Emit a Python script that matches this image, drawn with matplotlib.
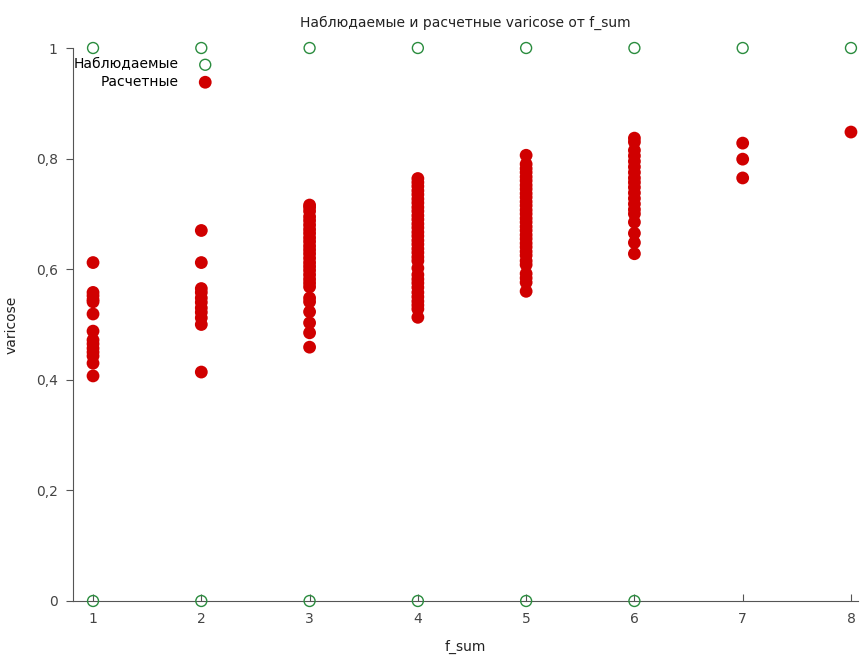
import matplotlib.pyplot as plt

# observed values (0/1) for each f_sum
obs_x = [1, 2, 3, 4, 5, 6, 7, 8, 1, 2, 3, 4, 5, 6]
obs_y = [1, 1, 1, 1, 1, 1, 1, 1, 0, 0, 0, 0, 0, 0]

# predicted values grouped by f_sum
pred_1 = [0.612, 0.558, 0.552, 0.545, 0.541, 0.519, 0.488, 0.472, 0.465,
          0.457, 0.450, 0.443, 0.430, 0.407]
pred_2 = [0.670, 0.612, 0.565, 0.558, 0.548, 0.540, 0.530, 0.522, 0.512,
          0.500, 0.414]
pred_3 = [0.716, 0.712, 0.705, 0.695, 0.688, 0.680, 0.672, 0.665, 0.657,
          0.650, 0.642, 0.635, 0.628, 0.620, 0.612, 0.605, 0.598, 0.590,
          0.582, 0.575, 0.568, 0.548, 0.541, 0.523, 0.503, 0.485, 0.459]
pred_4 = [0.764, 0.757, 0.750, 0.742, 0.735, 0.727, 0.720, 0.712, 0.705,
          0.697, 0.690, 0.682, 0.675, 0.667, 0.660, 0.652, 0.645, 0.637,
          0.630, 0.622, 0.615, 0.602, 0.590, 0.582, 0.575, 0.567, 0.558,
          0.550, 0.542, 0.535, 0.528, 0.513]
pred_5 = [0.806, 0.790, 0.782, 0.775, 0.767, 0.760, 0.752, 0.745, 0.737,
          0.730, 0.722, 0.715, 0.707, 0.700, 0.692, 0.685, 0.677, 0.670,
          0.662, 0.655, 0.647, 0.640, 0.632, 0.625, 0.615, 0.608, 0.592,
          0.584, 0.576, 0.560]
pred_6 = [0.837, 0.830, 0.815, 0.805, 0.795, 0.785, 0.775, 0.765, 0.757,
          0.748, 0.738, 0.728, 0.718, 0.708, 0.700, 0.685, 0.665, 0.648,
          0.628]
pred_7 = [0.828, 0.799, 0.765]
pred_8 = [0.848]

pred_groups = [pred_1, pred_2, pred_3, pred_4, pred_5, pred_6, pred_7, pred_8]
pred_x = []
pred_y = []
for i, vals in enumerate(pred_groups):
    pred_x += [i + 1] * len(vals)
    pred_y += vals

x_ticks = [1, 2, 3, 4, 5, 6, 7, 8]
y_ticks = [0, 0.2, 0.4, 0.6, 0.8, 1]
y_tick_labels = ['0', '0,2', '0,4', '0,6', '0,8', '1']

fig = plt.figure(figsize=(8.6, 6.55), dpi=100)
ax = fig.add_axes([73 / 860, 54 / 655, 785 / 860, 553 / 655])

ax.scatter(obs_x, obs_y, s=62, facecolors='none', edgecolors='#2a8c3e',
           linewidths=1.0, clip_on=False, zorder=3, label='Наблюдаемые')
ax.scatter(pred_x, pred_y, s=85, color='#d00000', edgecolors='none',
           clip_on=False, zorder=3, label='Расчетные')

ax.set_xlim(0.815, 8.065)
ax.set_ylim(0, 1)
ax.set_xticks(x_ticks)
ax.set_yticks(y_ticks)
ax.set_yticklabels(y_tick_labels)

for side in ['top', 'right']:
    ax.spines[side].set_visible(False)
for side in ['left', 'bottom']:
    ax.spines[side].set_color('#555555')
ax.tick_params(axis='x', direction='in', length=5, color='#555555',
               labelcolor='#444444', labelsize=10, pad=8)
ax.tick_params(axis='y', direction='out', length=5, color='#555555',
               labelcolor='#444444', labelsize=10, pad=6)

ax.set_title('Наблюдаемые и расчетные varicose от f_sum', fontsize=10,
             color='#222222', pad=15)
ax.set_xlabel('f_sum', fontsize=10, color='#222222', labelpad=10)
ax.set_ylabel('varicose', fontsize=10, color='#222222', labelpad=12)

ax.legend(loc='upper left', bbox_to_anchor=(-0.006, 0.993), frameon=False,
          markerfirst=False, fontsize=10, handletextpad=0.9,
          labelspacing=0.25, borderaxespad=0)

fig.savefig('out.png', dpi=100)
